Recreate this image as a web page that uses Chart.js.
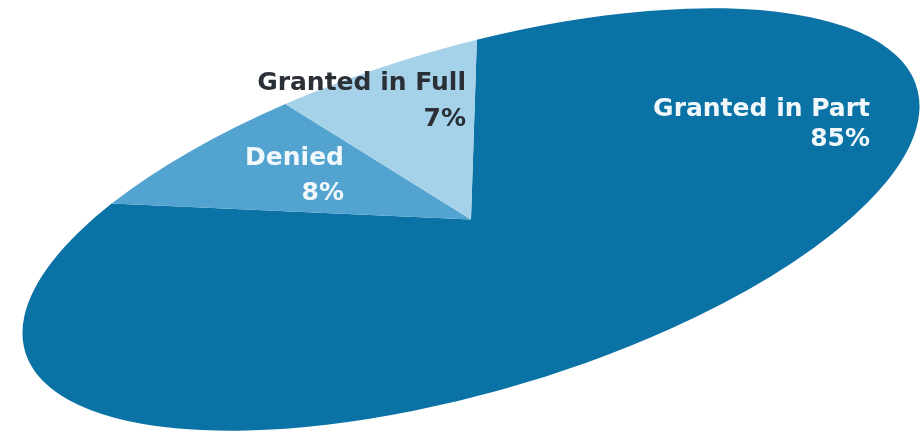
<!DOCTYPE html>
<html>
<head>
<meta charset="utf-8">
<script src="https://cdn.jsdelivr.net/npm/chart.js@4.4.1/dist/chart.umd.min.js"></script>
<style>
  html, body { margin: 0; padding: 0; background: #ffffff; }
  #wrap { width: 920px; height: 435px; position: relative; }
</style>
</head>
<body>
<div id="wrap"><canvas id="pieChart"></canvas></div>
<script>
// data
const categories = ['Granted in Part', 'Denied', 'Granted in Full'];
const shares = [85, 8, 7];
const sliceColors = ['#0b72a6', '#52a3cf', '#a5d1e9'];

// label styling and placement (not data)
const labelColors = ['#f1f8fb', '#f1f8fb', '#2b2f36'];
const labelAnchors = [
  { x: 870, y1: 116, y2: 146 },
  { x: 344, y1: 165, y2: 200 },
  { x: 466, y1: 90, y2: 126 }
];

// the pie is squashed into a tilted ellipse
const tilt = 16.5;      // degrees, counter-clockwise
const semiMajor = 465;
const semiMinor = 172;

const ellipsePlugin = {
  id: 'ellipse',
  beforeDatasetsDraw(chart) {
    const arc = chart.getDatasetMeta(0).data[0];
    const ctx = chart.ctx;
    ctx.save();
    ctx.translate(arc.x, arc.y);
    ctx.rotate(-tilt * Math.PI / 180);
    ctx.scale(semiMajor / arc.outerRadius, semiMinor / arc.outerRadius);
    ctx.translate(-arc.x, -arc.y);
  },
  afterDatasetsDraw(chart) {
    chart.ctx.restore();
  }
};

const labelPlugin = {
  id: 'sliceLabels',
  afterDraw(chart) {
    const ctx = chart.ctx;
    ctx.save();
    ctx.font = 'bold 25px "DejaVu Sans"';
    ctx.textAlign = 'right';
    ctx.textBaseline = 'alphabetic';
    categories.forEach((name, i) => {
      const pos = labelAnchors[i];
      ctx.fillStyle = labelColors[i];
      ctx.fillText(name, pos.x, pos.y1);
      ctx.fillText(shares[i] + '%', pos.x, pos.y2);
    });
    ctx.restore();
  }
};

const ctx = document.getElementById('pieChart').getContext('2d');
const pieChart = new Chart(ctx, {
  type: 'pie',
  data: {
    labels: categories,
    datasets: [{
      data: shares,
      backgroundColor: sliceColors,
      borderWidth: 0,
      clip: false
    }]
  },
  options: {
    responsive: true,
    maintainAspectRatio: false,
    animation: false,
    rotation: 7,
    layout: { padding: { left: 22, top: 4, right: 0, bottom: 0 } },
    plugins: {
      legend: { display: false },
      tooltip: { enabled: false }
    }
  },
  plugins: [ellipsePlugin, labelPlugin]
});
</script>
</body>
</html>
